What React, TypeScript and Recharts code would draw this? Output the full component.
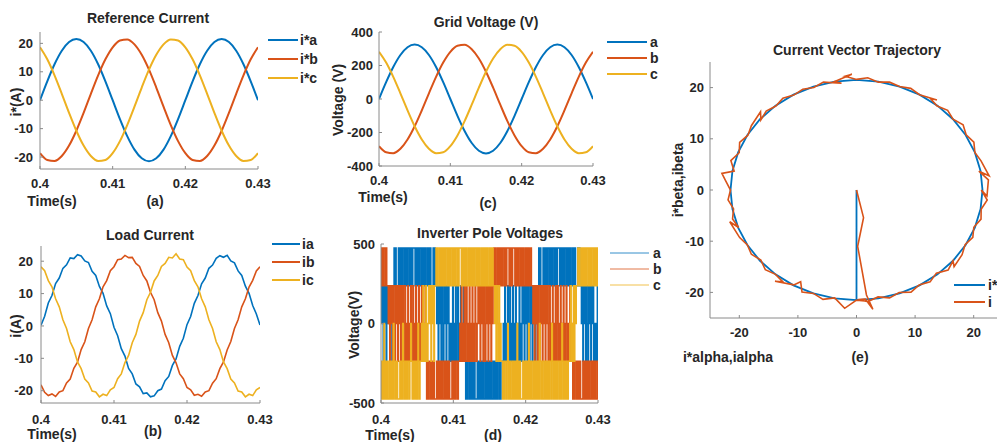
import React from "react";
import { Line, LineChart, XAxis, YAxis } from "recharts";

const BLUE = "#0072BD";
const ORANGE = "#D95319";
const YELLOW = "#EDB120";
const BOX = "#8a8a8a";
const INK = "#262626";
const FONT = "'Liberation Sans', Arial, Helvetica, sans-serif";

const tStart = 0.4;
const timeTicks = [0.4, 0.41, 0.42, 0.43];

// (a) reference current, sampled every 1 ms
const refDt = 0.001;
const refIa = [0, 6.64, 12.64, 17.39, 20.45, 21.5, 20.45, 17.39, 12.64, 6.64, 0, -6.64, -12.64, -17.39, -20.45, -21.5, -20.45, -17.39, -12.64, -6.64, 0, 6.64, 12.64, 17.39, 20.45, 21.5, 20.45, 17.39, 12.64, 6.64, 0];
const refIb = [-18.62, -21.03, -21.38, -19.64, -15.97, -10.75, -4.47, 2.25, 8.74, 14.39, 18.62, 21.03, 21.38, 19.64, 15.97, 10.75, 4.47, -2.25, -8.74, -14.39, -18.62, -21.03, -21.38, -19.64, -15.97, -10.75, -4.47, 2.25, 8.74, 14.39, 18.62];
const refIc = [18.62, 14.39, 8.74, 2.25, -4.47, -10.75, -15.97, -19.64, -21.38, -21.03, -18.62, -14.39, -8.74, -2.25, 4.47, 10.75, 15.97, 19.64, 21.38, 21.03, 18.62, 14.39, 8.74, 2.25, -4.47, -10.75, -15.97, -19.64, -21.38, -21.03, -18.62];

// (b) load current, every 0.5 ms
const loadDt = 0.0005;
const loadIa = [0.2, 3.0, 7.1, 9.4, 13.1, 14.8, 17.8, 18.9, 21.0, 20.8, 22.0, 21.6, 20.1, 19.6, 16.9, 15.6, 12.2, 10.1, 6.2, 3.8, -0.4, -3.0, -7.0, -9.3, -13.1, -14.8, -17.9, -18.8, -20.9, -20.7, -21.9, -21.6, -20.0, -19.5, -16.9, -15.6, -12.2, -10.2, -6.3, -3.8, 0.4, 2.9, 7.0, 9.4, 13.0, 14.8, 17.8, 18.8, 20.9, 21.7, 21.2, 21.8, 20.1, 19.5, 17.0, 15.6, 12.3, 10.1, 6.3, 3.7, 0.3];
const loadIb = [-18.2, -20.5, -21.5, -21.0, -21.8, -20.4, -20.0, -17.6, -16.4, -13.1, -11.2, -7.3, -4.9, -0.8, 1.9, 5.9, 8.4, 12.1, 14.0, 17.1, 18.3, 20.5, 20.7, 21.8, 21.1, 21.2, 19.3, 18.4, 15.6, 13.9, 10.4, 8.1, 4.1, 1.5, -2.6, -5.2, -9.1, -11.4, -14.8, -16.3, -19.0, -19.7, -21.4, -21.1, -21.7, -20.4, -20.0, -17.7, -16.3, -13.2, -11.1, -7.4, -4.8, -0.8, 1.9, 5.9, 8.4, 12.0, 14.1, 17.0, 18.3];
const loadIc = [18.3, 17.1, 14.0, 12.1, 8.4, 5.9, 1.9, -0.8, -4.9, -7.3, -11.1, -13.2, -16.4, -17.6, -20.1, -20.4, -21.9, -21.1, -21.5, -19.7, -19.0, -16.3, -14.8, -11.3, -9.1, -5.2, -2.6, 1.5, 4.1, 8.1, 10.4, 13.9, 15.6, 18.4, 19.3, 21.2, 21.0, 22.3, 20.7, 20.5, 18.2, 17.1, 14.0, 12.1, 8.4, 5.9, 1.9, -0.8, -4.9, -7.3, -11.1, -13.2, -16.4, -17.6, -20.1, -20.4, -21.9, -21.1, -21.5, -19.7, -19.0];

// (c) grid voltage, every 1 ms
const gridVa = [0, 100.4, 191.0, 262.9, 309.1, 325, 309.1, 262.9, 191.0, 100.4, 0, -100.4, -191.0, -262.9, -309.1, -325, -309.1, -262.9, -191.0, -100.4, 0, 100.4, 191.0, 262.9, 309.1, 325, 309.1, 262.9, 191.0, 100.4, 0];
const gridVb = [-281.5, -317.9, -323.2, -296.9, -241.5, -162.5, -67.6, 34.0, 132.2, 217.5, 281.5, 317.9, 323.2, 296.9, 241.5, 162.5, 67.6, -34.0, -132.2, -217.5, -281.5, -317.9, -323.2, -296.9, -241.5, -162.5, -67.6, 34.0, 132.2, 217.5, 281.5];
const gridVc = [281.5, 217.5, 132.2, 34.0, -67.6, -162.5, -241.5, -296.9, -323.2, -317.9, -281.5, -217.5, -132.2, -34.0, 67.6, 162.5, 241.5, 296.9, 323.2, 317.9, 281.5, 217.5, 132.2, 34.0, -67.6, -162.5, -241.5, -296.9, -323.2, -317.9, -281.5];

// (d) inverter pole voltages, every 0.1 ms, as index into poleLevels
const poleDt = 0.0001;
const poleLevels = [-475, -237.5, 0, 237.5, 475];
const poleA = [
  3,2,3,1,3,2,3,1,3,2,3,2,3,1,3,2,3,
  3,4,3,4,3,3,3,4,3,4,3,4,3,4,4,3,4,3,4,3,4,4,3,4,3,4,3,4,4,4,3,4,3,4,3,4,3,4,4,3,4,3,4,3,4,3,3,4,3,4,3,4,3,3,3,4,3,4,3,
  3,2,3,1,3,2,3,1,3,2,1,3,2,3,1,3,2,3,1,2,
  1,2,1,3,1,2,1,3,1,2,3,1,2,1,3,1,2,1,3,1,
  1,0,1,0,1,1,0,1,0,1,0,1,0,1,0,0,0,1,0,1,0,1,0,1,0,1,0,0,1,0,1,0,1,0,1,0,1,0,0,1,0,1,0,1,0,1,1,0,1,0,1,1,
  1,2,1,3,1,2,1,3,1,2,3,1,2,1,3,1,2,1,3,2,1,2,1,3,1,2,1,
  3,2,3,1,3,2,3,1,3,2,1,3,2,3,1,3,2,3,1,3,2,3,
  3,4,3,4,3,3,3,4,3,4,3,4,3,4,4,3,4,3,4,3,4,4,3,4,3,4,3,4,4,4,3,4,3,4,3,4,3,4,4,3,4,3,4,3,4,3,3,4,3,4,3,4,3,3,3,4,3,4,3,
  3,2,3,1,3,2,3,1,3,2,1,3,2,3,1,3,2,3,1,2,
  1,2,1,3,1,
];
const poleB = [
  4,3,4,3,4,4,3,4,3,
  3,2,3,1,3,2,3,1,3,2,1,3,2,3,1,3,2,3,1,3,2,3,1,2,3,
  1,2,1,3,1,2,1,3,1,2,3,1,2,1,3,1,2,1,3,1,2,1,3,2,1,2,1,3,
  1,0,1,0,1,1,0,1,0,1,0,1,0,0,0,1,0,1,0,1,0,1,0,1,0,0,1,0,1,0,1,0,1,0,0,0,1,0,1,0,1,0,1,1,0,1,
  1,2,1,3,1,2,1,3,1,2,3,1,2,1,3,1,2,1,3,1,2,1,3,2,1,2,
  3,2,3,1,3,2,3,1,3,2,1,3,2,3,1,3,2,3,1,3,2,
  3,4,3,4,3,3,4,3,4,3,4,3,4,3,4,4,3,4,3,4,4,4,3,4,3,4,3,4,4,4,3,4,3,4,3,4,4,3,4,3,4,3,4,3,3,4,3,4,3,4,3,3,4,3,
  3,2,3,1,3,2,3,1,3,2,1,3,2,3,1,3,2,3,1,3,2,3,1,2,3,
  1,2,1,3,1,2,1,3,1,2,3,1,2,1,3,1,2,1,3,1,2,1,3,2,1,2,1,3,1,2,
  1,0,1,0,1,1,0,1,0,1,0,1,0,0,0,1,0,1,0,1,0,1,0,1,0,0,1,0,1,0,1,0,1,0,0,1,0,
];
const poleC = [
  1,0,1,0,2,0,1,0,1,0,0,1,0,1,0,1,0,2,1,0,1,0,1,0,0,0,1,0,1,0,2,1,0,1,0,1,0,1,1,0,1,2,1,0,1,0,1,1,0,1,0,2,1,0,1,
  1,2,1,3,1,2,1,3,2,1,2,
  3,2,3,1,3,2,3,1,3,
  3,4,3,4,3,3,4,3,4,3,4,3,4,3,4,4,3,4,3,4,3,4,4,3,4,3,4,3,4,4,3,4,3,4,4,4,3,4,3,4,3,4,3,4,3,3,4,3,4,3,4,3,4,3,4,4,3,4,3,4,3,4,3,3,4,3,4,3,4,3,4,3,4,3,3,4,3,4,3,4,3,
  3,2,3,1,3,2,
  1,3,1,2,1,
  1,0,1,0,1,1,0,1,2,0,1,0,1,0,0,1,0,1,0,1,0,2,0,1,0,1,0,0,0,1,0,1,0,1,0,1,0,2,0,1,0,1,0,0,1,0,1,0,1,0,1,0,2,1,0,1,0,0,1,0,1,0,1,0,1,0,1,1,0,2,1,0,1,0,1,0,1,0,1,1,0,1,0,2,1,0,1,0,1,0,1,0,1,
  1,2,3,1,2,1,
  3,1,3,2,3,
  3,4,3,4,3,3,4,3,4,3,4,3,4,3,4,4,3,4,3,4,3,4,4,3,4,3,4,3,4,4,
];

// (e) alpha-beta trajectory
const vecTicks = [-20, -10, 0, 10, 20];
const refAlpha = [0, 0, 3.73, 7.35, 10.75, 13.82, 16.47, 18.62, 20.2, 21.17, 21.5, 21.17, 20.2, 18.62, 16.47, 13.82, 10.75, 7.35, 3.73, 0, -3.73, -7.35, -10.75, -13.82, -16.47, -18.62, -20.2, -21.17, -21.5, -21.17, -20.2, -18.62, -16.47, -13.82, -10.75, -7.35, -3.73, 0];
const refBeta = [0, -21.5, -21.17, -20.2, -18.62, -16.47, -13.82, -10.75, -7.35, -3.73, 0, 3.73, 7.35, 10.75, 13.82, 16.47, 18.62, 20.2, 21.17, 21.5, 21.17, 20.2, 18.62, 16.47, 13.82, 10.75, 7.35, 3.73, 0, -3.73, -7.35, -10.75, -13.82, -16.47, -18.62, -20.2, -21.17, -21.5];
const measAlpha = [
  0, 1.2, 0.2, 1.7, 2.8, 1.5, 0.3, 1.91, 3.68, 5.64,
  7.28, 9.3, 10.7, 12.56, 13.63, 15.63, 16.47, 16.65, 18.02, 18.53,
  19.85, 20.02, 21.25, 21.27, 22.31, 21.3, 22.27, 22.51, 20.88, 22.63,
  21.25, 20.2, 20.03, 18.71, 18.19, 16.47, 15.56, 13.76, 12.56, 13.73,
  10.75, 9.25, 7.35, 5.64, 3.72, 1.92, 0, -1.94, -0.79, -3.73,
  -2.56, -5.64, -7.28, -9.17, -10.7, -12.56, -13.76, -15.41, -16.32, -16.38,
  -17.94, -18.53, -19.94, -20.02, -21.44, -20.88, -22.97, -22.41, -21.5, -21.92,
  -20.98, -21.15, -20.11, -21.63, -19.94, -18.62, -17.94, -16.32, -15.56, -13.82,
  -12.56, -13.91, -10.7, -9.53, -9.3, -7.35, -5.72, -3.72, -2.02, 0,
  1.9,
];
const measBeta = [
  0, -5.4, -11, -20.5, -23.3, -21.3, -21.4, -21.82, -20.88, -21.06,
  -20.02, -19.94, -18.53, -17.94, -16.24, -15.63, -13.82, -14.99, -12.62, -10.7,
  -9.25, -7.28, -5.69, -3.75, -1.95, 0, -1.17, 1.97, 3.68, 2.78,
  5.69, 7.35, 9.34, 10.8, 12.73, 13.82, 15.56, 16.39, 17.94, 17.57,
  18.62, 19.85, 20.2, 21.06, 21.07, 21.92, 21.6, 22.22, 22.59, 21.17,
  20.84, 21.06, 20.02, 19.67, 18.53, 17.94, 16.39, 15.41, 13.69, 15.28,
  12.56, 10.7, 9.3, 7.28, 5.75, 3.68, 3.23, 1.96, 0, -1.92,
  -3.7, -5.67, -7.32, -6.2, -9.3, -10.75, -12.56, -13.69, -15.56, -16.47,
  -17.94, -17.81, -18.53, -17.92, -19.94, -20.2, -21.35, -21.07, -23.11, -21.5,
  -21.72,
];

const at = (dt: number, k: number) => +(tStart + k * dt).toFixed(5);
const refRows = refIa.map((v, k) => ({ t: at(refDt, k), ia: v, ib: refIb[k], ic: refIc[k] }));
const loadRows = loadIa.map((v, k) => ({ t: at(loadDt, k), ia: v, ib: loadIb[k], ic: loadIc[k] }));
const gridRows = gridVa.map((v, k) => ({ t: at(refDt, k), a: v, b: gridVb[k], c: gridVc[k] }));
const poleRows = poleA.map((v, k) => ({
  t: at(poleDt, k),
  a: poleLevels[v],
  b: poleLevels[poleB[k]],
  c: poleLevels[poleC[k]],
}));
const refPath = refAlpha.map((x, i) => ({ x, y: refBeta[i] }));
const measPath = measAlpha.map((x, i) => ({ x, y: measBeta[i] }));

const tickStyle = { fill: INK, fontSize: 13, fontWeight: 700, fontFamily: FONT };

// box with inward ticks on all four sides, like a matlab axes
function frame(
  xKey: string,
  xDomain: [number, number],
  xTicks: number[],
  yDomain: [number, number],
  yTicks: number[],
  xGap: number,
  yGap: number
) {
  return [
    <XAxis key="xb" type="number" dataKey={xKey} domain={xDomain} allowDataOverflow ticks={xTicks} interval={0}
      height={30} tickSize={-3} tickMargin={xGap} stroke={BOX} tick={tickStyle} />,
    <XAxis key="xt" xAxisId="top" orientation="top" type="number" domain={xDomain} allowDataOverflow ticks={xTicks}
      interval={0} height={0} tickSize={-3} tick={false} stroke={BOX} />,
    <YAxis key="yl" type="number" domain={yDomain} allowDataOverflow ticks={yTicks} interval={0}
      width={50} tickSize={-3} tickMargin={yGap} stroke={BOX} tick={tickStyle} />,
    <YAxis key="yr" yAxisId="right" orientation="right" type="number" domain={yDomain} allowDataOverflow
      ticks={yTicks} interval={0} width={0} tickSize={-3} tick={false} stroke={BOX} />,
  ];
}

type Box = { left: number; top: number; right: number; bottom: number };

function Panel({ box, data, children }: { box: Box; data?: any[]; children: React.ReactNode }) {
  return (
    <div style={{ position: "absolute", left: box.left - 50, top: box.top - 12 }}>
      <LineChart
        width={box.right - box.left + 72}
        height={box.bottom - box.top + 42}
        data={data}
        margin={{ top: 12, right: 22, bottom: 0, left: 0 }}
      >
        {children}
      </LineChart>
    </div>
  );
}

function Caption({ x, y, text, rotate }: { x: number; y: number; text: string; rotate?: boolean }) {
  return (
    <div
      style={{
        position: "absolute",
        left: x,
        top: y,
        transform: `translate(-50%, -50%)${rotate ? " rotate(-90deg)" : ""}`,
        fontSize: 14,
        fontWeight: 700,
        lineHeight: 1,
        whiteSpace: "nowrap",
        color: INK,
      }}
    >
      {text}
    </div>
  );
}

type KeyItem = { label: string; color: string; y: number };

function Key({ x1, x2, textX, items, width }: { x1: number; x2: number; textX: number; items: KeyItem[]; width: number }) {
  return (
    <>
      {items.map((it) => (
        <div key={it.label} style={{ position: "absolute", left: x1, top: it.y - 8, height: 16, display: "flex", alignItems: "center" }}>
          <svg width={x2 - x1} height={16} style={{ display: "block" }}>
            <line x1={0} x2={x2 - x1} y1={8} y2={8} stroke={it.color} strokeWidth={width} />
          </svg>
          <span style={{ marginLeft: textX - x2, fontSize: 14, fontWeight: 700, color: INK, lineHeight: 1 }}>{it.label}</span>
        </div>
      ))}
    </>
  );
}

const boxA = { left: 40, top: 32, right: 258, bottom: 169 };
const boxB = { left: 41, top: 246, right: 260, bottom: 403 };
const boxC = { left: 379, top: 32, right: 593, bottom: 166 };
const boxD = { left: 381, top: 244, right: 598, bottom: 403 };
const boxE = { left: 710, top: 62, right: 1003, bottom: 318 };

export default function App() {
  return (
    <div style={{ position: "absolute", left: 0, top: 0, width: 997, height: 442, overflow: "hidden", background: "#fff", fontFamily: FONT }}>
      <Panel box={boxA} data={refRows}>
        {frame("t", [0.4, 0.43], timeTicks, [-24.2, 24], [-20, -10, 0, 10, 20], 13, 10)}
        <Line type="monotone" dataKey="ia" stroke={BLUE} strokeWidth={2} dot={false} isAnimationActive={false} />
        <Line type="monotone" dataKey="ib" stroke={ORANGE} strokeWidth={2} dot={false} isAnimationActive={false} />
        <Line type="monotone" dataKey="ic" stroke={YELLOW} strokeWidth={2} dot={false} isAnimationActive={false} />
      </Panel>
      <Caption x={148} y={18} text="Reference Current" />
      <Caption x={16} y={102} text="i*(A)" rotate />
      <Caption x={52} y={201} text="Time(s)" />
      <Caption x={155} y={201} text="(a)" />
      <Key x1={268} x2={298} textX={300} width={2} items={[
        { label: "i*a", color: BLUE, y: 40 },
        { label: "i*b", color: ORANGE, y: 59 },
        { label: "i*c", color: YELLOW, y: 78 },
      ]} />

      <Panel box={boxB} data={loadRows}>
        {frame("t", [0.4, 0.43], timeTicks, [-23.8, 24.7], [-20, -10, 0, 10, 20], 15, 11)}
        <Line type="linear" dataKey="ia" stroke={BLUE} strokeWidth={1.6} dot={false} isAnimationActive={false} />
        <Line type="linear" dataKey="ib" stroke={ORANGE} strokeWidth={1.6} dot={false} isAnimationActive={false} />
        <Line type="linear" dataKey="ic" stroke={YELLOW} strokeWidth={1.6} dot={false} isAnimationActive={false} />
      </Panel>
      <Caption x={150} y={235} text="Load Current" />
      <Caption x={16} y={326} text="i(A)" rotate />
      <Caption x={52} y={434} text="Time(s)" />
      <Caption x={153} y={431} text="(b)" />
      <Key x1={272} x2={300} textX={302} width={2} items={[
        { label: "ia", color: BLUE, y: 244 },
        { label: "ib", color: ORANGE, y: 262 },
        { label: "ic", color: YELLOW, y: 280 },
      ]} />

      <Panel box={boxC} data={gridRows}>
        {frame("t", [0.4, 0.43], timeTicks, [-400, 400], [-400, -200, 0, 200, 400], 13, 9)}
        <Line type="monotone" dataKey="a" stroke={BLUE} strokeWidth={2} dot={false} isAnimationActive={false} />
        <Line type="monotone" dataKey="b" stroke={ORANGE} strokeWidth={2} dot={false} isAnimationActive={false} />
        <Line type="monotone" dataKey="c" stroke={YELLOW} strokeWidth={2} dot={false} isAnimationActive={false} />
      </Panel>
      <Caption x={486} y={22} text="Grid Voltage (V)" />
      <Caption x={338} y={100} text="Voltage (V)" rotate />
      <Caption x={383} y={197} text="Time(s)" />
      <Caption x={488} y={203} text="(c)" />
      <Key x1={607} x2={647} textX={650} width={2} items={[
        { label: "a", color: BLUE, y: 42 },
        { label: "b", color: ORANGE, y: 58 },
        { label: "c", color: YELLOW, y: 74 },
      ]} />

      <Panel box={boxD} data={poleRows}>
        {frame("t", [0.4, 0.43], timeTicks, [-500, 500], [-500, 0, 500], 15, 9)}
        <Line type="stepAfter" dataKey="a" stroke={BLUE} strokeWidth={1.4} dot={false} isAnimationActive={false} />
        <Line type="stepAfter" dataKey="b" stroke={ORANGE} strokeWidth={1.4} dot={false} isAnimationActive={false} />
        <Line type="stepAfter" dataKey="c" stroke={YELLOW} strokeWidth={1.4} dot={false} isAnimationActive={false} />
      </Panel>
      <Caption x={490} y={233} text="Inverter Pole Voltages" />
      <Caption x={354} y={325} text="Voltage(V)" rotate />
      <Caption x={390} y={435} text="Time(s)" />
      <Caption x={493} y={435} text="(d)" />
      <Key x1={610} x2={649} textX={653} width={0.8} items={[
        { label: "a", color: BLUE, y: 253 },
        { label: "b", color: ORANGE, y: 269 },
        { label: "c", color: YELLOW, y: 285 },
      ]} />

      <Panel box={boxE}>
        {frame("x", [-25, 25], vecTicks, [-25, 25], vecTicks, 13, 9)}
        <Line data={refPath} type="linear" dataKey="y" stroke={BLUE} strokeWidth={1.8} dot={false} isAnimationActive={false} />
        <Line data={measPath} type="linear" dataKey="y" stroke={ORANGE} strokeWidth={1.6} dot={false} isAnimationActive={false} />
      </Panel>
      <Caption x={857} y={50} text="Current Vector Trajectory" />
      <Caption x={678} y={180} text="i*beta,ibeta" rotate />
      <Caption x={728} y={357} text="i*alpha,ialpha" />
      <Caption x={860} y={357} text="(e)" />
      <Key x1={954} x2={985} textX={988} width={2} items={[
        { label: "i*", color: BLUE, y: 285 },
        { label: "i", color: ORANGE, y: 302 },
      ]} />
    </div>
  );
}
